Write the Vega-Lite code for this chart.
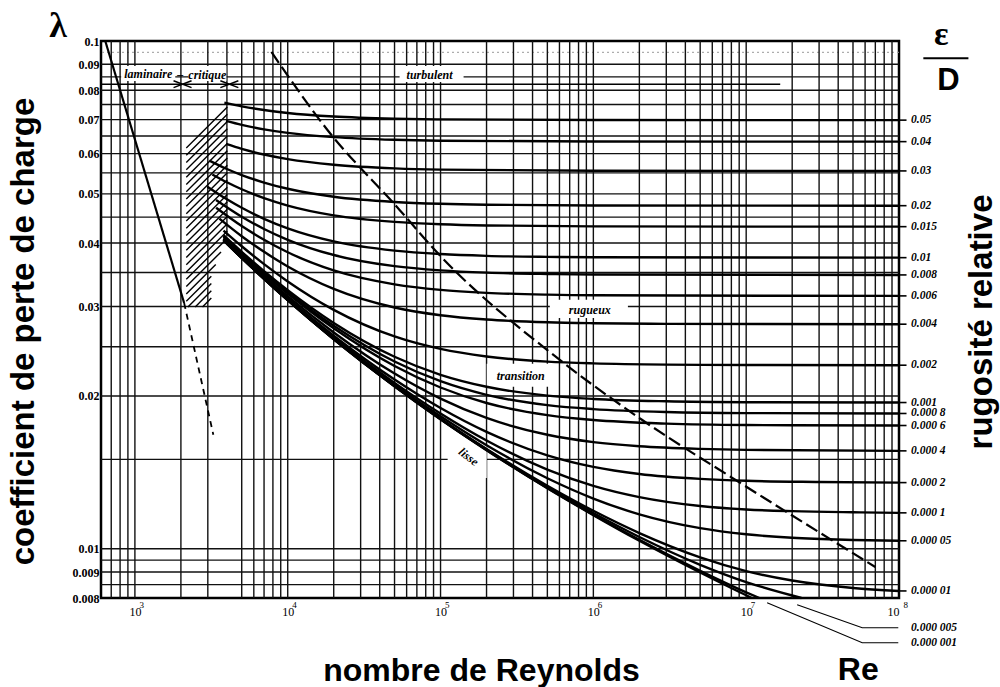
{
  "$schema": "https://vega.github.io/schema/vega-lite/v6.json",
  "width": 798,
  "height": 557,
  "autosize": "none",
  "padding": {"left": 101, "top": 41, "right": 101, "bottom": 89},
  "background": "white",
  "config": {
    "view": {"stroke": "black", "strokeWidth": 2.5},
    "font": "Liberation Serif",
    "text": {"font": "Liberation Serif", "color": "black"}
  },
  "datasets": {
    "hgrid": [{"lam":0.09},{"lam":0.085},{"lam":0.08},{"lam":0.075},{"lam":0.07},{"lam":0.065},{"lam":0.06},{"lam":0.055},{"lam":0.05},{"lam":0.045},{"lam":0.04},{"lam":0.035},{"lam":0.03},{"lam":0.025},{"lam":0.02},{"lam":0.015},{"lam":0.01},{"lam":0.0095},{"lam":0.009},{"lam":0.0085}],
    "vgrid": [{"re":700},{"re":800},{"re":900},{"re":1000},{"re":2000},{"re":3000},{"re":5000},{"re":6000},{"re":7000},{"re":8000},{"re":9000},{"re":1e4},{"re":2e4},{"re":3e4},{"re":4e4},{"re":5e4},{"re":6e4},{"re":7e4},{"re":8e4},{"re":9e4},{"re":1e5},{"re":2e5},{"re":3e5},{"re":4e5},{"re":5e5},{"re":6e5},{"re":7e5},{"re":8e5},{"re":9e5},{"re":1e6},{"re":2e6},{"re":3e6},{"re":4e6},{"re":5e6},{"re":6e6},{"re":7e6},{"re":8e6},{"re":9e6},{"re":1e7},{"re":2e7},{"re":3e7},{"re":4e7},{"re":5e7},{"re":6e7},{"re":7e7},{"re":8e7},{"re":9e7}],
    "decades": [{"re":1000,"p":"3"},{"re":10000,"p":"4"},{"re":100000,"p":"5"},{"re":1000000,"p":"6"},{"re":10000000,"p":"7"},{"re":100000000,"p":"8"}],
    "hatch": [
      {"re1":2169,"l1":0.06159,"re2":4026,"l2":0.074164},
      {"re1":2169,"l1":0.059566,"re2":4026,"l2":0.071751},
      {"re1":2169,"l1":0.057628,"re2":4026,"l2":0.069417},
      {"re1":2169,"l1":0.055751,"re2":4026,"l2":0.067158},
      {"re1":2169,"l1":0.053935,"re2":4026,"l2":0.064973},
      {"re1":2169,"l1":0.05218,"re2":4026,"l2":0.06286},
      {"re1":2169,"l1":0.05048,"re2":4026,"l2":0.060813},
      {"re1":2169,"l1":0.048837,"re2":4026,"l2":0.058814},
      {"re1":2169,"l1":0.047247,"re2":4026,"l2":0.0569},
      {"re1":2169,"l1":0.04571,"re2":4026,"l2":0.055048},
      {"re1":2169,"l1":0.044221,"re2":4026,"l2":0.053255},
      {"re1":2169,"l1":0.042781,"re2":4026,"l2":0.051522},
      {"re1":2169,"l1":0.041389,"re2":4026,"l2":0.049843},
      {"re1":2169,"l1":0.040042,"re2":4026,"l2":0.048221},
      {"re1":2169,"l1":0.038739,"re2":4026,"l2":0.046651},
      {"re1":2169,"l1":0.037477,"re2":4026,"l2":0.045133},
      {"re1":2169,"l1":0.036258,"re2":4026,"l2":0.043663},
      {"re1":2169,"l1":0.035078,"re2":4026,"l2":0.042241},
      {"re1":2169,"l1":0.033936,"re2":3966,"l2":0.040682},
      {"re1":2169,"l1":0.032832,"re2":3661,"l2":0.038424},
      {"re1":2169,"l1":0.031764,"re2":3380,"l2":0.03629},
      {"re1":2169,"l1":0.03073,"re2":3162,"l2":0.034417},
      {"re1":2222,"l1":0.029946,"re2":3162,"l2":0.033297},
      {"re1":2480,"l1":0.029946,"re2":3162,"l2":0.032213},
      {"re1":2769,"l1":0.029946,"re2":3162,"l2":0.031165}
    ],
    "laminar": [{"re":640,"lam":0.1},{"re":2100,"lam":0.030476}],
    "laminarExt": [{"re":2100,"lam":0.030476},{"re":3260,"lam":0.01677}],
    "boundary": [
      {"re":7820,"lam":0.09514},{"re":18200,"lam":0.0668},{"re":53950,"lam":0.04649},{"re":91500,"lam":0.03879},
      {"re":603300,"lam":0.02355},{"re":2078000,"lam":0.01795},{"re":9120000,"lam":0.01349},{"re":69930000,"lam":0.00921}
    ],
    "leaders": [
      {"eps":"0.000 005","k":0,"re":21560000,"lam":0.007757},{"eps":"0.000 005","k":1,"re":57480000,"lam":0.006991},{"eps":"0.000 005","k":2,"re":98940000,"lam":0.006991},
      {"eps":"0.000 001","k":0,"re":13710000,"lam":0.007828},{"eps":"0.000 001","k":1,"re":57480000,"lam":0.006531},{"eps":"0.000 001","k":2,"re":98940000,"lam":0.006531}
    ],
    "curves": [
      {"eps":"0.05","re":3850,"lam":0.07563},{"eps":"0.05","re":5000,"lam":0.07436},{"eps":"0.05","re":7000,"lam":0.07312},{"eps":"0.05","re":1e4,"lam":0.07216},{"eps":"0.05","re":2e4,"lam":0.07102},{"eps":"0.05","re":5e4,"lam":0.07032},{"eps":"0.05","re":1e5,"lam":0.07009},{"eps":"0.05","re":1e6,"lam":0.06988},{"eps":"0.05","re":1e8,"lam":0.06985},
      {"eps":"0.04","re":3950,"lam":0.0696},{"eps":"0.04","re":5000,"lam":0.06836},{"eps":"0.04","re":7000,"lam":0.067},{"eps":"0.04","re":1e4,"lam":0.06594},{"eps":"0.04","re":2e4,"lam":0.06468},{"eps":"0.04","re":5e4,"lam":0.06389},{"eps":"0.04","re":1e5,"lam":0.06363},{"eps":"0.04","re":1e6,"lam":0.06339},{"eps":"0.04","re":1e8,"lam":0.06336},
      {"eps":"0.03","re":3950,"lam":0.06271},{"eps":"0.03","re":5000,"lam":0.06132},{"eps":"0.03","re":7000,"lam":0.05976},{"eps":"0.03","re":1e4,"lam":0.05853},{"eps":"0.03","re":2e4,"lam":0.05705},{"eps":"0.03","re":5e4,"lam":0.05612},{"eps":"0.03","re":1e5,"lam":0.05581},{"eps":"0.03","re":1e6,"lam":0.05552},{"eps":"0.03","re":1e8,"lam":0.05548},
      {"eps":"0.02","re":3070,"lam":0.05815},{"eps":"0.02","re":4000,"lam":0.05597},{"eps":"0.02","re":5000,"lam":0.05446},{"eps":"0.02","re":7000,"lam":0.05263},{"eps":"0.02","re":1e4,"lam":0.05117},{"eps":"0.02","re":2e4,"lam":0.04935},{"eps":"0.02","re":5e4,"lam":0.0482},{"eps":"0.02","re":1e5,"lam":0.0478},{"eps":"0.02","re":2e5,"lam":0.0476},{"eps":"0.02","re":1e6,"lam":0.04744},{"eps":"0.02","re":1e8,"lam":0.04739},
      {"eps":"0.015","re":3210,"lam":0.0546},{"eps":"0.015","re":4000,"lam":0.0527},{"eps":"0.015","re":5000,"lam":0.05105},{"eps":"0.015","re":7000,"lam":0.04904},{"eps":"0.015","re":1e4,"lam":0.04742},{"eps":"0.015","re":2e4,"lam":0.04536},{"eps":"0.015","re":5e4,"lam":0.04404},{"eps":"0.015","re":1e5,"lam":0.04357},{"eps":"0.015","re":2e5,"lam":0.04333},{"eps":"0.015","re":1e6,"lam":0.04314},{"eps":"0.015","re":1e8,"lam":0.04309},
      {"eps":"0.01","re":2980,"lam":0.05166},{"eps":"0.01","re":4000,"lam":0.04878},{"eps":"0.01","re":5000,"lam":0.04694},{"eps":"0.01","re":7000,"lam":0.04465},{"eps":"0.01","re":1e4,"lam":0.04276},{"eps":"0.01","re":2e4,"lam":0.0403},{"eps":"0.01","re":5e4,"lam":0.03865},{"eps":"0.01","re":1e5,"lam":0.03806},{"eps":"0.01","re":2e5,"lam":0.03775},{"eps":"0.01","re":5e5,"lam":0.03757},{"eps":"0.01","re":1e6,"lam":0.0375},{"eps":"0.01","re":1e8,"lam":0.03744},
      {"eps":"0.008","re":3395,"lam":0.04864},{"eps":"0.008","re":5000,"lam":0.04508},{"eps":"0.008","re":7000,"lam":0.04264},{"eps":"0.008","re":1e4,"lam":0.0406},{"eps":"0.008","re":2e4,"lam":0.03789},{"eps":"0.008","re":5e4,"lam":0.03602},{"eps":"0.008","re":1e5,"lam":0.03534},{"eps":"0.008","re":2e5,"lam":0.03498},{"eps":"0.008","re":5e5,"lam":0.03477},{"eps":"0.008","re":1e6,"lam":0.03469},{"eps":"0.008","re":1e8,"lam":0.03462},
      {"eps":"0.006","re":3400,"lam":0.04696},{"eps":"0.006","re":5000,"lam":0.04322},{"eps":"0.006","re":7000,"lam":0.04061},{"eps":"0.006","re":1e4,"lam":0.03837},{"eps":"0.006","re":2e4,"lam":0.03533},{"eps":"0.006","re":5e4,"lam":0.03317},{"eps":"0.006","re":1e5,"lam":0.03235},{"eps":"0.006","re":2e5,"lam":0.03192},{"eps":"0.006","re":5e5,"lam":0.03166},{"eps":"0.006","re":1e6,"lam":0.03157},{"eps":"0.006","re":1e8,"lam":0.03148},
      {"eps":"0.004","re":3570,"lam":0.0447},{"eps":"0.004","re":5000,"lam":0.04127},{"eps":"0.004","re":7000,"lam":0.03844},{"eps":"0.004","re":1e4,"lam":0.03598},{"eps":"0.004","re":2e4,"lam":0.0325},{"eps":"0.004","re":5e4,"lam":0.02987},{"eps":"0.004","re":1e5,"lam":0.02884},{"eps":"0.004","re":2e5,"lam":0.02828},{"eps":"0.004","re":5e5,"lam":0.02793},{"eps":"0.004","re":1e6,"lam":0.02781},{"eps":"0.004","re":3e6,"lam":0.02773},{"eps":"0.004","re":1e8,"lam":0.02769},
      {"eps":"0.002","re":3800,"lam":0.04233},{"eps":"0.002","re":5000,"lam":0.03942},{"eps":"0.002","re":7000,"lam":0.03635},{"eps":"0.002","re":1e4,"lam":0.03361},{"eps":"0.002","re":2e4,"lam":0.02955},{"eps":"0.002","re":5e4,"lam":0.02619},{"eps":"0.002","re":1e5,"lam":0.02475},{"eps":"0.002","re":2e5,"lam":0.02392},{"eps":"0.002","re":5e5,"lam":0.02337},{"eps":"0.002","re":1e6,"lam":0.02318},{"eps":"0.002","re":3e6,"lam":0.02305},{"eps":"0.002","re":1e7,"lam":0.02301},{"eps":"0.002","re":1e8,"lam":0.02299},
      {"eps":"0.001","re":3800,"lam":0.04145},{"eps":"0.001","re":5000,"lam":0.03844},{"eps":"0.001","re":7000,"lam":0.03522},{"eps":"0.001","re":1e4,"lam":0.03231},{"eps":"0.001","re":2e4,"lam":0.02785},{"eps":"0.001","re":5e4,"lam":0.02389},{"eps":"0.001","re":1e5,"lam":0.02201},{"eps":"0.001","re":2e5,"lam":0.02085},{"eps":"0.001","re":5e5,"lam":0.02003},{"eps":"0.001","re":1e6,"lam":0.01973},{"eps":"0.001","re":3e6,"lam":0.01952},{"eps":"0.001","re":1e7,"lam":0.01944},{"eps":"0.001","re":1e8,"lam":0.01941},
      {"eps":"0.000 8","re":3800,"lam":0.04128},{"eps":"0.000 8","re":5000,"lam":0.03825},{"eps":"0.000 8","re":7000,"lam":0.035},{"eps":"0.000 8","re":1e4,"lam":0.03205},{"eps":"0.000 8","re":2e4,"lam":0.0275},{"eps":"0.000 8","re":5e4,"lam":0.02338},{"eps":"0.000 8","re":1e5,"lam":0.02138},{"eps":"0.000 8","re":2e5,"lam":0.0201},{"eps":"0.000 8","re":5e5,"lam":0.01918},{"eps":"0.000 8","re":1e6,"lam":0.01884},{"eps":"0.000 8","re":3e6,"lam":0.01859},{"eps":"0.000 8","re":1e7,"lam":0.0185},{"eps":"0.000 8","re":1e8,"lam":0.01847},
      {"eps":"0.000 6","re":3800,"lam":0.04112},{"eps":"0.000 6","re":5000,"lam":0.03807},{"eps":"0.000 6","re":7000,"lam":0.0348},{"eps":"0.000 6","re":1e4,"lam":0.03182},{"eps":"0.000 6","re":2e4,"lam":0.02718},{"eps":"0.000 6","re":5e4,"lam":0.02291},{"eps":"0.000 6","re":1e5,"lam":0.02078},{"eps":"0.000 6","re":2e5,"lam":0.01937},{"eps":"0.000 6","re":5e5,"lam":0.01833},{"eps":"0.000 6","re":1e6,"lam":0.01793},{"eps":"0.000 6","re":3e6,"lam":0.01764},{"eps":"0.000 6","re":1e7,"lam":0.01753},{"eps":"0.000 6","re":1e8,"lam":0.01749},
      {"eps":"0.000 4","re":3800,"lam":0.04088},{"eps":"0.000 4","re":5000,"lam":0.03779},{"eps":"0.000 4","re":7000,"lam":0.03448},{"eps":"0.000 4","re":1e4,"lam":0.03144},{"eps":"0.000 4","re":2e4,"lam":0.02667},{"eps":"0.000 4","re":5e4,"lam":0.02214},{"eps":"0.000 4","re":1e5,"lam":0.01976},{"eps":"0.000 4","re":2e5,"lam":0.0181},{"eps":"0.000 4","re":5e5,"lam":0.01677},{"eps":"0.000 4","re":1e6,"lam":0.01622},{"eps":"0.000 4","re":2e6,"lam":0.01592},{"eps":"0.000 4","re":5e6,"lam":0.01573},{"eps":"0.000 4","re":1e7,"lam":0.01566},{"eps":"0.000 4","re":1e8,"lam":0.01559},
      {"eps":"0.000 2","re":3800,"lam":0.04071},{"eps":"0.000 2","re":5000,"lam":0.0376},{"eps":"0.000 2","re":7000,"lam":0.03425},{"eps":"0.000 2","re":1e4,"lam":0.03117},{"eps":"0.000 2","re":2e4,"lam":0.02628},{"eps":"0.000 2","re":5e4,"lam":0.02154},{"eps":"0.000 2","re":1e5,"lam":0.01893},{"eps":"0.000 2","re":2e5,"lam":0.01699},{"eps":"0.000 2","re":5e5,"lam":0.01528},{"eps":"0.000 2","re":1e6,"lam":0.0145},{"eps":"0.000 2","re":2e6,"lam":0.01404},{"eps":"0.000 2","re":5e6,"lam":0.01373},{"eps":"0.000 2","re":1e7,"lam":0.01361},{"eps":"0.000 2","re":3e7,"lam":0.01354},{"eps":"0.000 2","re":1e8,"lam":0.0135},
      {"eps":"0.000 1","re":3800,"lam":0.0406},{"eps":"0.000 1","re":5000,"lam":0.0375},{"eps":"0.000 1","re":7000,"lam":0.03413},{"eps":"0.000 1","re":1e4,"lam":0.03103},{"eps":"0.000 1","re":2e4,"lam":0.02608},{"eps":"0.000 1","re":5e4,"lam":0.02122},{"eps":"0.000 1","re":1e5,"lam":0.01847},{"eps":"0.000 1","re":2e5,"lam":0.01634},{"eps":"0.000 1","re":5e5,"lam":0.01432},{"eps":"0.000 1","re":1e6,"lam":0.0133},{"eps":"0.000 1","re":2e6,"lam":0.01264},{"eps":"0.000 1","re":5e6,"lam":0.01214},{"eps":"0.000 1","re":1e7,"lam":0.01195},{"eps":"0.000 1","re":2e7,"lam":0.01186},{"eps":"0.000 1","re":5e7,"lam":0.0118},{"eps":"0.000 1","re":1e8,"lam":0.01177},
      {"eps":"0.000 05","re":3800,"lam":0.04056},{"eps":"0.000 05","re":5000,"lam":0.03745},{"eps":"0.000 05","re":7000,"lam":0.03407},{"eps":"0.000 05","re":1e4,"lam":0.03096},{"eps":"0.000 05","re":2e4,"lam":0.02598},{"eps":"0.000 05","re":5e4,"lam":0.02105},{"eps":"0.000 05","re":1e5,"lam":0.01823},{"eps":"0.000 05","re":2e5,"lam":0.01599},{"eps":"0.000 05","re":5e5,"lam":0.01377},{"eps":"0.000 05","re":1e6,"lam":0.01256},{"eps":"0.000 05","re":2e6,"lam":0.01169},{"eps":"0.000 05","re":5e6,"lam":0.01098},{"eps":"0.000 05","re":1e7,"lam":0.01068},{"eps":"0.000 05","re":2e7,"lam":0.01051},{"eps":"0.000 05","re":5e7,"lam":0.01041},{"eps":"0.000 05","re":1e8,"lam":0.01037},
      {"eps":"0.000 01","re":3800,"lam":0.04053},{"eps":"0.000 01","re":5000,"lam":0.0374},{"eps":"0.000 01","re":7000,"lam":0.03403},{"eps":"0.000 01","re":1e4,"lam":0.03091},{"eps":"0.000 01","re":2e4,"lam":0.0259},{"eps":"0.000 01","re":5e4,"lam":0.02093},{"eps":"0.000 01","re":1e5,"lam":0.01804},{"eps":"0.000 01","re":2e5,"lam":0.01573},{"eps":"0.000 01","re":5e5,"lam":0.01331},{"eps":"0.000 01","re":1e6,"lam":0.01188},{"eps":"0.000 01","re":2e6,"lam":0.01074},{"eps":"0.000 01","re":5e6,"lam":0.00962},{"eps":"0.000 01","re":1e7,"lam":0.00904},{"eps":"0.000 01","re":2e7,"lam":0.00866},{"eps":"0.000 01","re":5e7,"lam":0.00837},{"eps":"0.000 01","re":1e8,"lam":0.00826},
      {"eps":"0.000 005","re":3800,"lam":0.04052},{"eps":"0.000 005","re":5000,"lam":0.03739},{"eps":"0.000 005","re":7000,"lam":0.03401},{"eps":"0.000 005","re":1e4,"lam":0.03088},{"eps":"0.000 005","re":2e4,"lam":0.02586},{"eps":"0.000 005","re":5e4,"lam":0.02091},{"eps":"0.000 005","re":1e5,"lam":0.01802},{"eps":"0.000 005","re":2e5,"lam":0.01568},{"eps":"0.000 005","re":5e5,"lam":0.01323},{"eps":"0.000 005","re":1e6,"lam":0.01176},{"eps":"0.000 005","re":2e6,"lam":0.01055},{"eps":"0.000 005","re":5e6,"lam":0.0093},{"eps":"0.000 005","re":1e7,"lam":0.0086},{"eps":"0.000 005","re":2e7,"lam":0.00809},{"eps":"0.000 005","re":23000000,"lam":0.008},
      {"eps":"0.000 001","re":3800,"lam":0.04051},{"eps":"0.000 001","re":5000,"lam":0.03739},{"eps":"0.000 001","re":7000,"lam":0.03402},{"eps":"0.000 001","re":1e4,"lam":0.03088},{"eps":"0.000 001","re":2e4,"lam":0.02589},{"eps":"0.000 001","re":5e4,"lam":0.0209},{"eps":"0.000 001","re":1e5,"lam":0.01799},{"eps":"0.000 001","re":2e5,"lam":0.01565},{"eps":"0.000 001","re":5e5,"lam":0.01317},{"eps":"0.000 001","re":1e6,"lam":0.01167},{"eps":"0.000 001","re":2e6,"lam":0.01041},{"eps":"0.000 001","re":5e6,"lam":0.00905},{"eps":"0.000 001","re":1e7,"lam":0.00821},{"eps":"0.000 001","re":12200000,"lam":0.008},
      {"eps":"lisse","re":4000,"lam":0.03991},{"eps":"lisse","re":5000,"lam":0.03739},{"eps":"lisse","re":7000,"lam":0.03402},{"eps":"lisse","re":1e4,"lam":0.03088},{"eps":"lisse","re":2e4,"lam":0.02589},{"eps":"lisse","re":5e4,"lam":0.02089},{"eps":"lisse","re":1e5,"lam":0.01799},{"eps":"lisse","re":2e5,"lam":0.01564},{"eps":"lisse","re":5e5,"lam":0.01316},{"eps":"lisse","re":1e6,"lam":0.01165},{"eps":"lisse","re":2e6,"lam":0.01037},{"eps":"lisse","re":5e6,"lam":0.00898},{"eps":"lisse","re":1e7,"lam":0.0081},{"eps":"lisse","re":10900000,"lam":0.008}
    ]
  },
  "layer": [
    {
      "data": {"name": "hgrid"},
      "mark": {"type": "rule", "color": "#111", "strokeWidth": 1.4},
      "encoding": {
        "y": {
          "field": "lam", "type": "quantitative",
          "scale": {"type": "log", "domain": [0.008, 0.1], "nice": false},
          "axis": {
            "values": [0.1, 0.09, 0.08, 0.07, 0.06, 0.05, 0.04, 0.03, 0.02, 0.01, 0.009, 0.008],
            "labelExpr": "'' + datum.value",
            "grid": false, "ticks": false, "domain": false,
            "labelFont": "Liberation Serif", "labelFontSize": 12, "labelFontWeight": "bold",
            "labelColor": "black", "labelPadding": 2, "labelBaseline": "middle",
            "title": "coefficient de perte de charge",
            "titleFont": "Liberation Sans", "titleFontSize": 33, "titleFontWeight": "bold", "titleColor": "black",
            "titleAngle": -90, "titleX": -68, "titleY": 290, "titleAlign": "center", "titleBaseline": "alphabetic"
          }
        }
      }
    },
    {
      "data": {"values": [{"lam": 0.095}]},
      "mark": {"type": "rule", "color": "#999", "strokeWidth": 1, "strokeDash": [2, 3]},
      "encoding": {"y": {"field": "lam", "type": "quantitative"}}
    },
    {
      "data": {"name": "vgrid"},
      "mark": {"type": "rule", "color": "#111", "strokeWidth": 1.4},
      "encoding": {
        "x": {
          "field": "re", "type": "quantitative",
          "scale": {"type": "log", "domain": [600, 100000000], "nice": false},
          "axis": {
            "values": [1000, 10000, 100000, 1000000, 10000000, 100000000],
            "labelExpr": "'10'",
            "grid": false, "ticks": false, "domain": false,
            "labelFont": "Liberation Serif", "labelFontSize": 12, "labelColor": "black", "labelPadding": 8, "labelDx": -4,
            "title": "nombre de Reynolds",
            "titleFont": "Liberation Sans", "titleFontSize": 32, "titleFontWeight": "bold", "titleColor": "black",
            "titleX": 380, "titleY": 82, "titleAlign": "center", "titleBaseline": "alphabetic"
          }
        }
      }
    },
    {
      "data": {"name": "decades"},
      "mark": {"type": "text", "font": "Liberation Serif", "fontSize": 9, "align": "left", "baseline": "alphabetic", "dx": 4.5, "dy": 10},
      "encoding": {
        "x": {"field": "re", "type": "quantitative"},
        "y": {"datum": 0.008, "type": "quantitative"},
        "text": {"field": "p"}
      }
    },
    {
      "data": {"values": [{"re": 4000}]},
      "mark": {"type": "rule", "color": "#111", "strokeWidth": 1.4},
      "encoding": {
        "x": {"field": "re", "type": "quantitative"},
        "y": {"datum": 0.1, "type": "quantitative"},
        "y2": {"datum": 0.0412}
      }
    },
    {
      "data": {"values": [{"re": 600}, {"re": 16700000}]},
      "mark": {"type": "line", "color": "black", "strokeWidth": 1.4},
      "encoding": {
        "x": {"field": "re", "type": "quantitative"},
        "y": {"datum": 0.0822, "type": "quantitative"}
      }
    },
    {
      "data": {"values": [
        {"name": "laminaire", "re1": 813, "re2": 1837, "l1": 0.08929, "l2": 0.08341},
        {"name": "critique", "re1": 2235, "re2": 3966, "l1": 0.08929, "l2": 0.08341},
        {"name": "turbulent", "re1": 53950, "re2": 141500, "l1": 0.08929, "l2": 0.08303},
        {"name": "rugueux", "re1": 518800, "re2": 1683000, "l1": 0.03092, "l2": 0.02849},
        {"name": "transition", "re1": 200500, "re2": 518800, "l1": 0.02313, "l2": 0.02084},
        {"name": "lisse", "re1": 111300, "re2": 200500, "l1": 0.01595, "l2": 0.01379}
      ]},
      "mark": {"type": "rect", "fill": "white"},
      "encoding": {
        "x": {"field": "re1", "type": "quantitative"},
        "x2": {"field": "re2"},
        "y": {"field": "l1", "type": "quantitative"},
        "y2": {"field": "l2"}
      }
    },
    {
      "data": {"values": [
        {"name": "laminaire", "re": 1222, "lam": 0.0861, "angle": 0},
        {"name": "–", "re": 1981, "lam": 0.0861, "angle": 0},
        {"name": "critique", "re": 2978, "lam": 0.08571, "angle": 0},
        {"name": "turbulent", "re": 84830, "lam": 0.08571, "angle": 0},
        {"name": "rugueux", "re": 948600, "lam": 0.02955, "angle": 0},
        {"name": "transition", "re": 334900, "lam": 0.0219, "angle": 0},
        {"name": "lisse", "re": 152800, "lam": 0.01518, "angle": 38}
      ]},
      "mark": {"type": "text", "font": "Liberation Serif", "fontSize": 12, "fontWeight": "bold", "fontStyle": "italic", "align": "center", "baseline": "middle"},
      "encoding": {
        "x": {"field": "re", "type": "quantitative"},
        "y": {"field": "lam", "type": "quantitative"},
        "text": {"field": "name"},
        "angle": {"field": "angle", "type": "quantitative", "scale": null}
      }
    },
    {
      "data": {"name": "hatch"},
      "mark": {"type": "rule", "color": "black", "strokeWidth": 1.4},
      "encoding": {
        "x": {"field": "re1", "type": "quantitative"},
        "x2": {"field": "re2"},
        "y": {"field": "l1", "type": "quantitative"},
        "y2": {"field": "l2"}
      }
    },
    {
      "data": {"name": "laminar"},
      "mark": {"type": "line", "color": "black", "strokeWidth": 2.2},
      "encoding": {
        "x": {"field": "re", "type": "quantitative"},
        "y": {"field": "lam", "type": "quantitative"}
      }
    },
    {
      "data": {"name": "laminarExt"},
      "mark": {"type": "line", "color": "black", "strokeWidth": 1.8, "strokeDash": [6, 5]},
      "encoding": {
        "x": {"field": "re", "type": "quantitative"},
        "y": {"field": "lam", "type": "quantitative"}
      }
    },
    {
      "data": {"name": "curves"},
      "mark": {"type": "line", "color": "black", "strokeWidth": 2.4, "interpolate": "monotone"},
      "encoding": {
        "x": {"field": "re", "type": "quantitative"},
        "y": {"field": "lam", "type": "quantitative"},
        "detail": {"field": "eps"}
      }
    },
    {
      "data": {"name": "boundary"},
      "mark": {"type": "line", "color": "black", "strokeWidth": 2.2, "strokeDash": [13, 5], "interpolate": "monotone"},
      "encoding": {
        "x": {"field": "re", "type": "quantitative"},
        "y": {"field": "lam", "type": "quantitative"}
      }
    },
    {
      "data": {"values": [{"re": 2050}, {"re": 4150}]},
      "mark": {"type": "point", "shape": "M-1,-0.38L1,0.38M-1,0.38L1,-0.38", "size": 324, "filled": false, "stroke": "black", "strokeWidth": 1.5, "opacity": 1},
      "encoding": {
        "x": {"field": "re", "type": "quantitative"},
        "y": {"datum": 0.0822, "type": "quantitative"}
      }
    },
    {
      "data": {"name": "curves"},
      "transform": [{"filter": "datum.re == 100000000"}],
      "mark": {"type": "rule", "color": "black", "strokeWidth": 1.6},
      "encoding": {
        "x": {"datum": 100000000, "type": "quantitative"},
        "x2": {"datum": 112000000},
        "y": {"field": "lam", "type": "quantitative"}
      }
    },
    {
      "data": {"name": "curves"},
      "transform": [{"filter": "datum.re == 100000000"}],
      "mark": {"type": "text", "font": "Liberation Serif", "fontSize": 11.5, "fontWeight": "bold", "fontStyle": "italic", "align": "left", "baseline": "middle"},
      "encoding": {
        "x": {"datum": 120000000, "type": "quantitative"},
        "y": {"field": "lam", "type": "quantitative"},
        "text": {"field": "eps"}
      }
    },
    {
      "data": {"name": "leaders"},
      "mark": {"type": "line", "color": "black", "strokeWidth": 1.1},
      "encoding": {
        "x": {"field": "re", "type": "quantitative"},
        "y": {"field": "lam", "type": "quantitative"},
        "detail": {"field": "eps"},
        "order": {"field": "k"}
      }
    },
    {
      "data": {"name": "leaders"},
      "transform": [{"filter": "datum.k == 2"}],
      "mark": {"type": "text", "font": "Liberation Serif", "fontSize": 11.5, "fontWeight": "bold", "fontStyle": "italic", "align": "left", "baseline": "middle"},
      "encoding": {
        "x": {"datum": 120000000, "type": "quantitative"},
        "y": {"field": "lam", "type": "quantitative"},
        "text": {"field": "eps"}
      }
    },
    {
      "data": {"values": [{}]},
      "mark": {"type": "text", "text": "λ", "font": "Liberation Serif", "fontSize": 36, "fontWeight": "bold", "align": "center", "baseline": "alphabetic"},
      "encoding": {
        "x": {"datum": 314.4, "type": "quantitative"},
        "y": {"datum": 0.1018, "type": "quantitative"}
      }
    },
    {
      "data": {"values": [{}]},
      "mark": {"type": "text", "text": "ε", "font": "Liberation Serif", "fontSize": 34, "fontWeight": "bold", "align": "center", "baseline": "alphabetic"},
      "encoding": {
        "x": {"datum": 189300000, "type": "quantitative"},
        "y": {"datum": 0.0982, "type": "quantitative"}
      }
    },
    {
      "data": {"values": [{}]},
      "mark": {"type": "rule", "color": "black", "strokeWidth": 2},
      "encoding": {
        "x": {"datum": 144300000, "type": "quantitative"},
        "x2": {"datum": 284600000},
        "y": {"datum": 0.09245, "type": "quantitative"}
      }
    },
    {
      "data": {"values": [{}]},
      "mark": {"type": "text", "text": "D", "font": "Liberation Sans", "fontSize": 31, "fontWeight": "bold", "align": "center", "baseline": "alphabetic"},
      "encoding": {
        "x": {"datum": 210400000, "type": "quantitative"},
        "y": {"datum": 0.08009, "type": "quantitative"}
      }
    },
    {
      "data": {"values": [{}]},
      "mark": {"type": "text", "text": "Re", "font": "Liberation Sans", "fontSize": 32, "fontWeight": "bold", "align": "center", "baseline": "alphabetic"},
      "encoding": {
        "x": {"datum": 54100000, "type": "quantitative"},
        "y": {"datum": 0.005523, "type": "quantitative"}
      }
    },
    {
      "data": {"values": [{}]},
      "mark": {"type": "text", "text": "rugosité relative", "font": "Liberation Sans", "fontSize": 33, "fontWeight": "bold", "align": "center", "baseline": "alphabetic", "angle": 270},
      "encoding": {
        "x": {"datum": 408700000, "type": "quantitative"},
        "y": {"datum": 0.02797, "type": "quantitative"}
      }
    }
  ]
}
